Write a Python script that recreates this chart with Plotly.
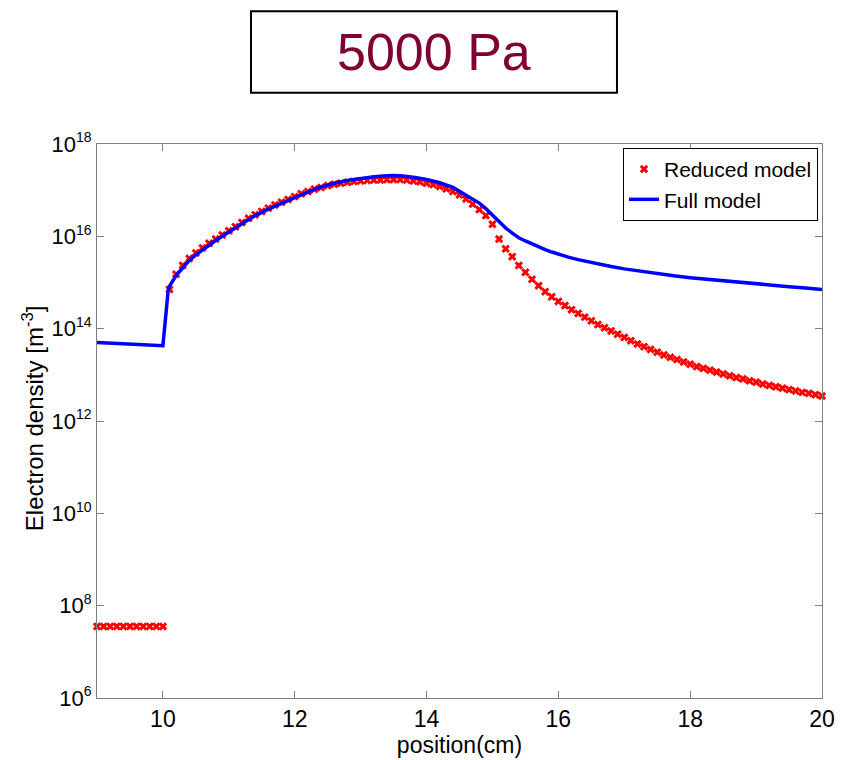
import plotly.graph_objects as go

# ---- data -------------------------------------------------------------
# Reduced model: positions (cm) and log10 of electron density (m^-3)
reduced_x_left = [9.0, 9.1, 9.2, 9.3, 9.4, 9.5, 9.6, 9.7, 9.8, 9.9, 10.0]
reduced_log_left = [7.55] * 11

reduced_x_right = [round(10.1 + 0.1 * i, 1) for i in range(100)]
reduced_log_right = [
    14.85, 15.18, 15.37, 15.52, 15.64, 15.75, 15.85, 15.94, 16.03, 16.12,   # 10.1-11.0
    16.21, 16.30, 16.39, 16.47, 16.54, 16.61, 16.68, 16.74, 16.80, 16.86,   # 11.1-12.0
    16.92, 16.97, 17.02, 17.06, 17.10, 17.13, 17.15, 17.17, 17.19, 17.20,   # 12.1-13.0
    17.21, 17.22, 17.22, 17.23, 17.23, 17.23, 17.22, 17.20, 17.18, 17.15,   # 13.1-14.0
    17.12, 17.08, 17.03, 16.97, 16.90, 16.81, 16.70, 16.58, 16.45, 16.26,   # 14.1-15.0
    15.94, 15.73, 15.56, 15.37, 15.22, 15.07, 14.93, 14.80, 14.69, 14.59,   # 15.1-16.0
    14.50, 14.41, 14.33, 14.25, 14.17, 14.09, 14.02, 13.95, 13.88, 13.81,   # 16.1-17.0
    13.74, 13.67, 13.61, 13.55, 13.49, 13.43, 13.38, 13.33, 13.28, 13.23,   # 17.1-18.0
    13.18, 13.14, 13.10, 13.06, 13.02, 12.98, 12.94, 12.91, 12.87, 12.84,   # 18.1-19.0
    12.80, 12.77, 12.74, 12.71, 12.68, 12.65, 12.62, 12.60, 12.57, 12.54,   # 19.1-20.0
]

# Full model: positions (cm) and log10 of electron density (m^-3)
full_x = [9.0, 10.0, 10.08, 10.1, 10.2, 10.3, 10.4, 10.5, 10.6, 10.7, 10.8,
          10.9, 11.0, 11.2, 11.4, 11.6, 11.8, 12.0, 12.2, 12.4, 12.6, 12.8,
          13.0, 13.2, 13.4, 13.5, 13.6, 13.8, 14.0, 14.2, 14.4, 14.6, 14.7,
          14.8, 14.9, 15.0, 15.1, 15.2, 15.3, 15.4, 15.5, 15.6, 15.7, 15.8,
          15.9, 16.0, 16.15, 16.3, 16.45, 16.6, 16.8, 17.0, 17.25, 17.5, 17.75,
          18.0, 18.25, 18.5, 18.75, 19.0, 19.25, 19.5, 19.75, 20.0]
full_log = [13.70, 13.63, 14.83, 14.92, 15.15, 15.33, 15.48, 15.60, 15.71, 15.81, 15.91,
            16.00, 16.09, 16.27, 16.45, 16.59, 16.72, 16.84, 16.96, 17.07, 17.15, 17.21,
            17.25, 17.29, 17.31, 17.32, 17.31, 17.28, 17.23, 17.16, 17.06, 16.90, 16.82,
            16.72, 16.60, 16.46, 16.31, 16.18, 16.07, 15.97, 15.90, 15.83, 15.77, 15.71,
            15.66, 15.61, 15.55, 15.495, 15.445, 15.40, 15.345, 15.295, 15.24, 15.19, 15.145,
            15.105, 15.07, 15.035, 15.00, 14.97, 14.94, 14.91, 14.88, 14.85]

x_ticks = [10, 12, 14, 16, 18, 20]
y_tick_exponents = [6, 8, 10, 12, 14, 16, 18]

title_text = "5000 Pa"
legend_reduced = "Reduced model"
legend_full = "Full model"
x_title = "position(cm)"
y_title = "Electron density [m<sup>-3</sup>]"

# ---- figure -----------------------------------------------------------
FONT = "Arial, Liberation Sans, sans-serif"

reduced_x = reduced_x_left + reduced_x_right
reduced_y = [10 ** v for v in reduced_log_left + reduced_log_right]
full_y = [10 ** v for v in full_log]

y_tickvals = [10 ** e for e in y_tick_exponents]
y_ticktext = ["10<sup><span style='font-size:14px'>%d</span></sup>" % e
              for e in y_tick_exponents]

fig = go.Figure()
fig.add_trace(go.Scatter(
    x=reduced_x, y=reduced_y, mode="markers", name=legend_reduced,
    marker=dict(symbol="x", size=7.5, color="#ff0000", line=dict(width=0)),
    cliponaxis=False,
))
fig.add_trace(go.Scatter(
    x=full_x, y=full_y, mode="lines", name=legend_full,
    line=dict(color="#0000ff", width=3.5),
))

axis_common = dict(
    showgrid=False, zeroline=False, showline=True, linecolor="#808080",
    linewidth=1, mirror="ticks", ticks="inside", ticklen=7,
    tickcolor="#808080",
)

fig.update_xaxes(range=[9, 20], tickvals=x_ticks,
                 tickfont=dict(family=FONT, size=23, color="#000"),
                 title=dict(text=x_title, font=dict(family=FONT, size=23, color="#000"),
                            standoff=0),
                 **axis_common)
fig.update_yaxes(type="log", range=[y_tick_exponents[0], y_tick_exponents[-1]],
                 tickvals=y_tickvals, ticktext=y_ticktext,
                 tickfont=dict(family=FONT, size=22, color="#000"),
                 **axis_common)

fig.update_layout(
    width=848, height=760,
    margin=dict(l=97, r=26, t=144, b=53),
    paper_bgcolor="white", plot_bgcolor="white",
    font=dict(family=FONT, color="#000"),
    legend=dict(
        x=0.9945, y=0.993, xanchor="right", yanchor="top",
        bordercolor="#000", borderwidth=1, bgcolor="white",
        font=dict(family=FONT, size=21, color="#000"),
        tracegroupgap=0, itemwidth=30,
    ),
    shapes=[dict(
        type="rect", xref="paper", yref="paper",
        x0=0.2124, x1=0.7172, y0=1.0924, y1=1.2398,
        line=dict(color="#000", width=2), fillcolor="white", layer="above",
    )],
    annotations=[
        dict(
            text=title_text, xref="paper", yref="paper",
            x=0.4648, y=1.1661, xanchor="center", yanchor="middle",
            showarrow=False, font=dict(family=FONT, size=52, color="#800033"),
        ),
        # vertical axis title placed beside the tick labels
        dict(
            text=y_title, xref="paper", yref="paper",
            x=-0.0883, y=0.505, xanchor="center", yanchor="middle",
            textangle=-90, showarrow=False,
            font=dict(family=FONT, size=24, color="#000"),
        ),
    ],
)

fig.write_html("out.html")
